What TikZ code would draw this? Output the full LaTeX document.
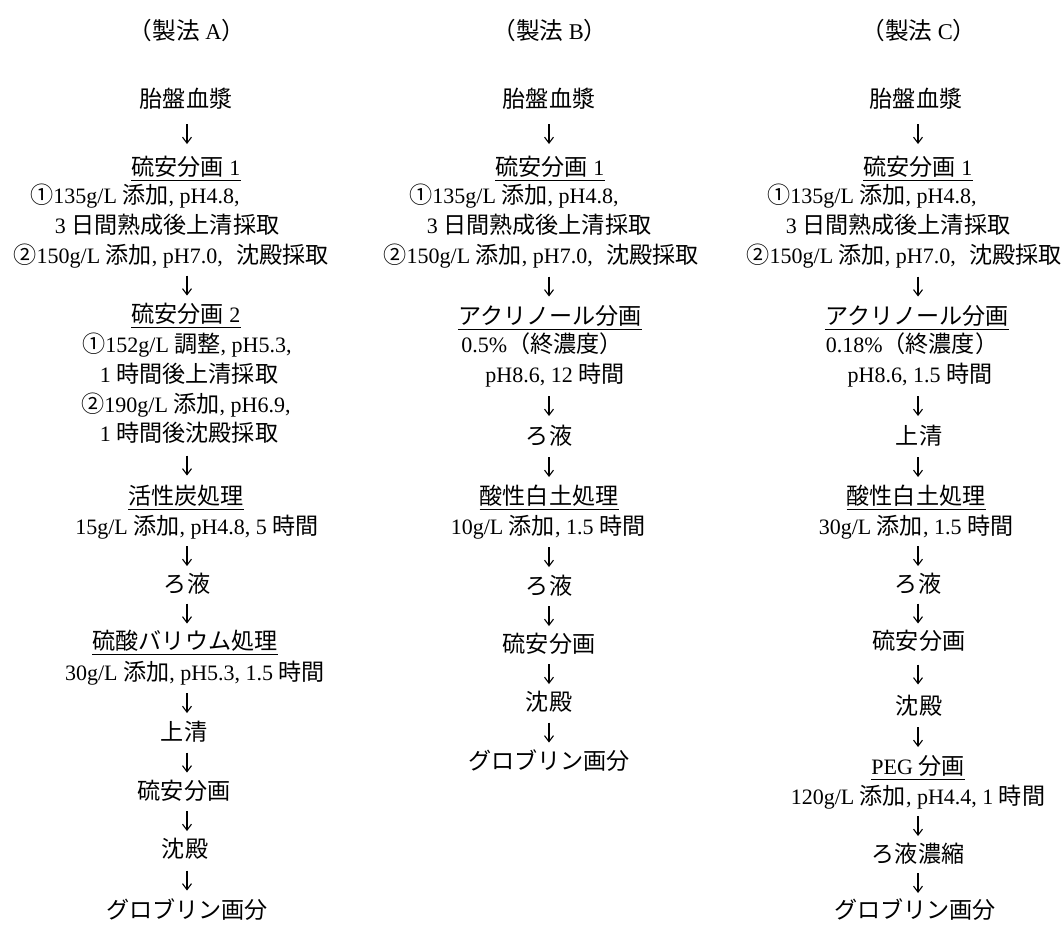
\documentclass[tikz,border=0pt]{standalone}
\usepackage{fontspec}
\setmainfont{Liberation Serif}
\newfontfamily\jp[Scale=1.05]{Noto Sans CJK JP}
\usetikzlibrary{arrows.meta,calc}
\newcommand\J[1]{{\jp #1}}
\tikzset{
  t/.style={inner sep=0pt, text height=18pt, text depth=4pt, font=\fontsize{22}{26}\selectfont},
  hd/.style={t, font=\fontsize{22.5}{26}\selectfont},
  arr/.style={line width=1.1pt, -{Straight Barb[length=6pt,width=9pt]}},
  ulin/.style={line width=1.2pt},
}
\newcommand\dnarrow[3]{%
  \path ($(#1.south)!.5!(#2.north)$) coordinate (mid);
  \path (mid -| #3) coordinate (mm);
  \draw[arr] ([yshift=10pt]mm) -- ([yshift=-10pt]mm);}
\newcommand\mkul[1]{\draw[ulin] ([yshift=-1pt]#1.south west) -- ([yshift=-1pt]#1.south east);}
\begin{document}
\begin{tikzpicture}[x=1pt,y=-1pt]
\fill[white] (0,0) rectangle (1064,927);
\useasboundingbox (0,0) rectangle (1064,927);
\coordinate (xA) at (187,0);
\coordinate (xB) at (549,0);
\coordinate (xC) at (918,0);

% ---------- Column A ----------
\node[hd] (hA) at (187,32) {\J{（製法} A\J{）}};
\node[t] (a1) at (186,100) {\J{胎盤血漿}};
\node[t] (a2) at (186,168) {\J{硫安分画} 1};
\node[t] (a3) at (135,196) {\J{①}135g/L \J{添加}, pH4.8,};
\node[t] (a4) at (167,226) {3 \J{日間熟成後上清採取}};
\node[t] (a5) at (171,256) {\J{②}150g/L \J{添加}, pH7.0,\hspace{0.6em}\J{沈殿採取}};
\node[t] (a6) at (186,315) {\J{硫安分画} 2};
\node[t] (a7) at (187,345) {\J{①}152g/L \J{調整}, pH5.3,};
\node[t] (a8) at (189,375) {1 \J{時間後上清採取}};
\node[t] (a9) at (186,405) {\J{②}190g/L \J{添加}, pH6.9,};
\node[t] (a10) at (189,434) {1 \J{時間後沈殿採取}};
\node[t] (a11) at (186,497) {\J{活性炭処理}};
\node[t] (a12) at (197,527) {15g/L \J{添加}, pH4.8, 5 \J{時間}};
\node[t] (a13) at (187,585) {\J{ろ液}};
\node[t] (a14) at (185,642) {\J{硫酸バリウム処理}};
\node[t] (a15) at (195,673) {30g/L \J{添加}, pH5.3, 1.5 \J{時間}};
\node[t] (a16) at (184,733) {\J{上清}};
\node[t] (a17) at (184,792) {\J{硫安分画}};
\node[t] (a18) at (185,850) {\J{沈殿}};
\node[t] (a19) at (187,911) {\J{グロブリン画分}};
\mkul{a2}\mkul{a6}\mkul{a11}\mkul{a14}
\dnarrow{a1}{a2}{xA}
\dnarrow{a5}{a6}{xA}
\dnarrow{a10}{a11}{xA}
\dnarrow{a12}{a13}{xA}
\dnarrow{a13}{a14}{xA}
\dnarrow{a15}{a16}{xA}
\dnarrow{a16}{a17}{xA}
\dnarrow{a17}{a18}{xA}
\dnarrow{a18}{a19}{xA}

% ---------- Column B ----------
\node[hd] (hB) at (550,32) {\J{（製法} B\J{）}};
\node[t] (b1) at (549,100) {\J{胎盤血漿}};
\node[t] (b2) at (550,168) {\J{硫安分画} 1};
\node[t] (b3) at (514,196) {\J{①}135g/L \J{添加}, pH4.8,};
\node[t] (b4) at (539,226) {3 \J{日間熟成後上清採取}};
\node[t] (b5) at (541,256) {\J{②}150g/L \J{添加}, pH7.0,\hspace{0.6em}\J{沈殿採取}};
\node[t] (b6) at (550,317) {\J{アクリノール分画}};
\node[t] (b7) at (542,345) {0.5\%\J{（終濃度）}};
\node[t] (b8) at (555,375) {pH8.6, 12 \J{時間}};
\node[t] (b9) at (549,437) {\J{ろ液}};
\node[t] (b10) at (549,497) {\J{酸性白土処理}};
\node[t] (b11) at (548,527) {10g/L \J{添加}, 1.5 \J{時間}};
\node[t] (b12) at (549,587) {\J{ろ液}};
\node[t] (b13) at (549,645) {\J{硫安分画}};
\node[t] (b14) at (549,703) {\J{沈殿}};
\node[t] (b15) at (549,762) {\J{グロブリン画分}};
\mkul{b2}\mkul{b6}\mkul{b10}
\dnarrow{b1}{b2}{xB}
\dnarrow{b5}{b6}{xB}
\dnarrow{b8}{b9}{xB}
\dnarrow{b9}{b10}{xB}
\dnarrow{b11}{b12}{xB}
\dnarrow{b12}{b13}{xB}
\dnarrow{b13}{b14}{xB}
\dnarrow{b14}{b15}{xB}

% ---------- Column C ----------
\node[hd] (hC) at (919,32) {\J{（製法} C\J{）}};
\node[t] (c1) at (916,100) {\J{胎盤血漿}};
\node[t] (c2) at (918,168) {\J{硫安分画} 1};
\node[t] (c3) at (872,196) {\J{①}135g/L \J{添加}, pH4.8,};
\node[t] (c4) at (898,226) {3 \J{日間熟成後上清採取}};
\node[t] (c5) at (904,256) {\J{②}150g/L \J{添加}, pH7.0,\hspace{0.6em}\J{沈殿採取}};
\node[t] (c6) at (917,317) {\J{アクリノール分画}};
\node[t] (c7) at (912,345) {0.18\%\J{（終濃度）}};
\node[t] (c8) at (920,375) {pH8.6, 1.5 \J{時間}};
\node[t] (c9) at (919,437) {\J{上清}};
\node[t] (c10) at (916,497) {\J{酸性白土処理}};
\node[t] (c11) at (916,527) {30g/L \J{添加}, 1.5 \J{時間}};
\node[t] (c12) at (918,585) {\J{ろ液}};
\node[t] (c13) at (919,642) {\J{硫安分画}};
\node[t] (c14) at (919,707) {\J{沈殿}};
\node[t] (c15) at (918,767) {PEG \J{分画}};
\node[t] (c16) at (918,797) {120g/L \J{添加}, pH4.4, 1 \J{時間}};
\node[t] (c17) at (918,855) {\J{ろ液濃縮}};
\node[t] (c18) at (915,911) {\J{グロブリン画分}};
\mkul{c2}\mkul{c6}\mkul{c10}\mkul{c15}
\dnarrow{c1}{c2}{xC}
\dnarrow{c5}{c6}{xC}
\dnarrow{c8}{c9}{xC}
\dnarrow{c9}{c10}{xC}
\dnarrow{c11}{c12}{xC}
\dnarrow{c12}{c13}{xC}
\dnarrow{c13}{c14}{xC}
\dnarrow{c14}{c15}{xC}
\dnarrow{c16}{c17}{xC}
\dnarrow{c17}{c18}{xC}
\end{tikzpicture}
\end{document}
